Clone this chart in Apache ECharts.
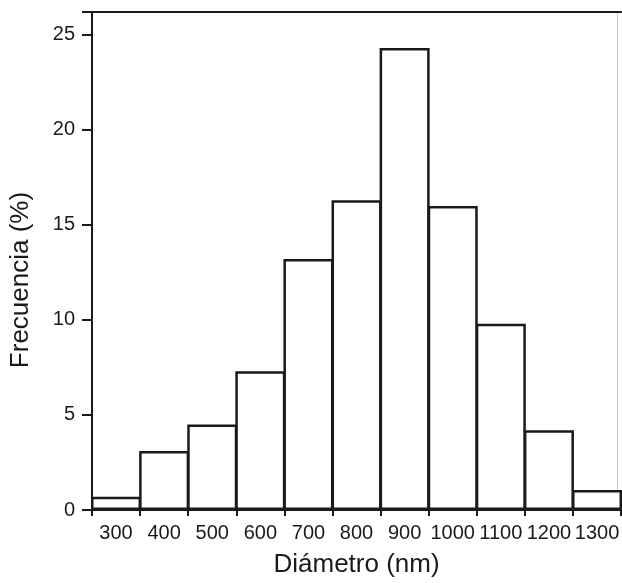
<!DOCTYPE html>
<html>
<head>
<meta charset="utf-8">
<script src="https://cdn.jsdelivr.net/npm/echarts@6/dist/echarts.min.js"></script>
<style>
    html, body { margin: 0; padding: 0; background: #fff; }
    #main { width: 622px; height: 583px; }
</style>
</head>
<body>
<div id="main"></div>
<script>
// histogram bins (nm) and frequency (%)
var diameters = ['300', '400', '500', '600', '700', '800', '900', '1000', '1100', '1200', '1300'];
var frequency = [0.7, 3.1, 4.5, 7.3, 13.2, 16.3, 24.3, 16.0, 9.8, 4.2, 1.05];
var yTicks = [0, 5, 10, 15, 20, 25];

var ink = '#1a1a1a';
var font = 'Liberation Sans, Arial, sans-serif';

var mChart = echarts.init(document.getElementById('main'));

var option = {
    animation: false,
    backgroundColor: '#fff',
    grid: {
        left: 90,
        top: 12,
        width: 535,
        bottom: 72,
        show: false
    },
    xAxis: [{
        type: 'category',
        data: diameters,
        boundaryGap: true,
        name: 'Diámetro (nm)',
        nameLocation: 'middle',
        nameGap: 42,
        nameTextStyle: {fontFamily: font, fontSize: 26, color: ink},
        axisLine: {show: true, lineStyle: {color: ink, width: 2}},
        axisTick: {show: true, length: 6, alignWithLabel: false, lineStyle: {color: ink, width: 2}},
        axisLabel: {interval: 0, margin: 13, fontFamily: font, fontSize: 20, color: ink}
    }, {
        type: 'category',
        data: diameters,
        position: 'top',
        axisLine: {show: true, onZero: false, lineStyle: {color: ink, width: 2}},
        axisTick: {show: false},
        axisLabel: {show: false}
    }],
    yAxis: [{
        type: 'value',
        min: 0,
        max: 26.2,
        interval: 5,
        name: 'Frecuencia (%)',
        nameLocation: 'middle',
        nameGap: 58,
        nameTextStyle: {fontFamily: font, fontSize: 26, color: ink, padding: [0, 38, 0, 0]},
        axisLine: {show: true, lineStyle: {color: ink, width: 2}},
        axisTick: {show: true, length: 10, lineStyle: {color: ink, width: 2}},
        axisLabel: {
            margin: 17, fontFamily: font, fontSize: 20, color: ink,
            formatter: function (v) { return yTicks.indexOf(v) >= 0 ? String(v) : ''; }
        },
        splitLine: {show: false}
    }, {
        type: 'value',
        min: 0,
        max: 26.2,
        position: 'right',
        offset: -4,
        axisLine: {show: true, onZero: false, lineStyle: {color: '#ccc', width: 1}},
        axisTick: {show: false},
        axisLabel: {show: false},
        splitLine: {show: false}
    }],
    series: [{
        type: 'bar',
        data: frequency,
        // echarts pulls the border inside the bar, so widen a bit to make bins touch
        barWidth: '104%',
        barGap: '0%',
        itemStyle: {color: '#fff', borderColor: ink, borderWidth: 2.5}
    }]
};

mChart.setOption(option);
</script>
</body>
</html>
